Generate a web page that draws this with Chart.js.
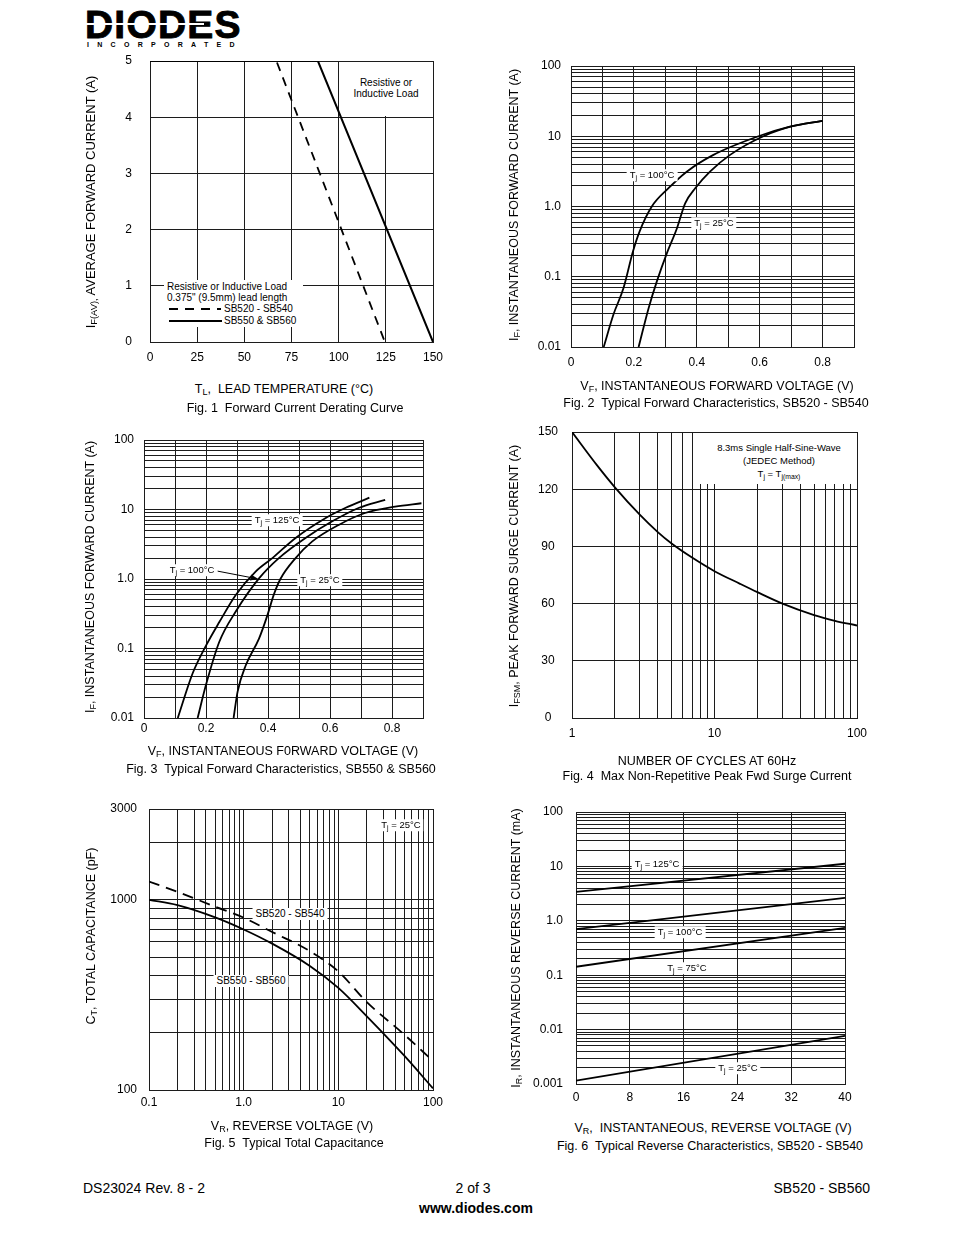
<!DOCTYPE html>
<html><head><meta charset="utf-8">
<script src="https://cdn.jsdelivr.net/npm/chart.js@4.4.1/dist/chart.umd.min.js"></script>
<style>
html,body{margin:0;padding:0;background:#fff;}
body{width:954px;height:1235px;position:relative;overflow:hidden;font-family:"Liberation Sans",Arial,Helvetica,sans-serif;color:#000;}
canvas{position:absolute;}
.t{position:absolute;white-space:nowrap;transform:translate(-50%,-50%);line-height:1;}
.tl{position:absolute;white-space:nowrap;transform:translate(0,-50%);line-height:1;}
.tr{position:absolute;white-space:nowrap;transform:translate(-100%,-50%);line-height:1;}
.r{transform:translate(-50%,-50%) rotate(-90deg);}
.ax{font-size:12.5px;}
.lb{font-size:9.5px;background:#fff;padding:1px 3px;}
.sb{font-size:10px;background:#fff;padding:1px 3px;}
.box{position:absolute;background:#fff;}
sub{font-size:72%;vertical-align:-0.3em;line-height:0;}
</style></head><body>

<!-- header logo -->
<div style="position:absolute;left:85px;top:5px;font:bold 39px/39px 'Liberation Sans',Arial,sans-serif;letter-spacing:1.2px;-webkit-text-stroke:0.9px #000;">DIODES</div>
<div style="position:absolute;left:86px;top:23px;width:118px;height:2px;background:#fff;"></div>
<div style="position:absolute;left:87px;top:41px;font:bold 7px/8px 'Liberation Sans',Arial,sans-serif;letter-spacing:8.3px;">INCORPORATED</div>

<canvas id="c1"></canvas>
<canvas id="c2"></canvas>
<canvas id="c3"></canvas>
<canvas id="c4"></canvas>
<canvas id="c5"></canvas>
<canvas id="c6"></canvas>

<!-- Fig 1 texts -->
<div class="box" style="left:350px;top:62px;width:81px;height:54px;"></div>
<div class="t" style="left:386px;top:83px;font-size:10px;">Resistive or</div>
<div class="t" style="left:386px;top:94px;font-size:10px;">Inductive Load</div>
<div class="box" style="left:164px;top:280px;width:139px;height:47px;"></div>
<div class="tl" style="left:167px;top:287px;font-size:10px;">Resistive or Inductive Load</div>
<div class="tl" style="left:167px;top:298px;font-size:10px;">0.375" (9.5mm) lead length</div>
<svg style="position:absolute;left:160px;top:300px;" width="70" height="30">
<line x1="9" y1="9" x2="61" y2="9" stroke="#000" stroke-width="1.8" stroke-dasharray="9,7"/>
<line x1="9" y1="21" x2="62" y2="21" stroke="#000" stroke-width="2"/>
</svg>
<div class="tl" style="left:224px;top:309px;font-size:10px;">SB520 - SB540</div>
<div class="tl" style="left:224px;top:321px;font-size:10px;">SB550 &amp; SB560</div>
<div class="t r" style="left:90px;top:202px;font-size:13px;">I<sub>F(AV),</sub> AVERAGE FORWARD CURRENT (A)</div>
<div class="t ax" style="left:284px;top:389px;">T<sub>L</sub>,&nbsp; LEAD TEMPERATURE (°C)</div>
<div class="t ax" style="left:295px;top:408px;">Fig. 1&nbsp; Forward Current Derating Curve</div>

<!-- Fig 2 texts -->
<div class="t lb" style="left:652px;top:175px;">T<sub>j</sub> = 100°C</div>
<div class="t lb" style="left:714px;top:223px;">T<sub>j</sub> = 25°C</div>
<div class="t r ax" style="left:514px;top:205px;">I<sub>F</sub>, INSTANTANEOUS FORWARD CURRENT (A)</div>
<div class="t ax" style="left:717px;top:386px;">V<sub>F</sub>, INSTANTANEOUS FORWARD VOLTAGE (V)</div>
<div class="t ax" style="left:716px;top:403px;">Fig. 2&nbsp; Typical Forward Characteristics, SB520 - SB540</div>

<!-- Fig 3 texts -->
<div class="t lb" style="left:277px;top:520px;">T<sub>j</sub> = 125°C</div>
<div class="t lb" style="left:192px;top:570px;">T<sub>j</sub> = 100°C</div>
<div class="t lb" style="left:320px;top:580px;">T<sub>j</sub> = 25°C</div>
<div class="t r ax" style="left:90px;top:577px;">I<sub>F</sub>, INSTANTANEOUS FORWARD CURRENT (A)</div>
<div class="t ax" style="left:283px;top:751px;">V<sub>F</sub>, INSTANTANEOUS F0RWARD VOLTAGE (V)</div>
<div class="t ax" style="left:281px;top:769px;">Fig. 3&nbsp; Typical Forward Characteristics, SB550 &amp; SB560</div>

<!-- Fig 4 texts -->
<div class="box" style="left:700px;top:433px;width:155px;height:51px;"></div>
<div class="t" style="left:779px;top:448px;font-size:9.5px;">8.3ms Single Half-Sine-Wave</div>
<div class="t" style="left:779px;top:461px;font-size:9.5px;">(JEDEC Method)</div>
<div class="t" style="left:779px;top:474px;font-size:9.5px;">T<sub>j</sub> = T<sub>j(max)</sub></div>
<div class="t r ax" style="left:514px;top:576px;">I<sub>FSM</sub>, PEAK FORWARD SURGE CURRENT (A)</div>
<div class="t ax" style="left:707px;top:761px;">NUMBER OF CYCLES AT 60Hz</div>
<div class="t ax" style="left:707px;top:776px;">Fig. 4&nbsp; Max Non-Repetitive Peak Fwd Surge Current</div>

<!-- Fig 5 texts -->
<div class="t lb" style="left:401px;top:825px;">T<sub>j</sub> = 25°C</div>
<div class="t sb" style="left:290px;top:914px;">SB520 - SB540</div>
<div class="t sb" style="left:251px;top:981px;">SB550 - SB560</div>
<div class="t r ax" style="left:91px;top:936px;">C<sub>T</sub>, TOTAL CAPACITANCE (pF)</div>
<div class="t ax" style="left:292px;top:1126px;">V<sub>R</sub>, REVERSE VOLTAGE (V)</div>
<div class="t ax" style="left:294px;top:1143px;">Fig. 5&nbsp; Typical Total Capacitance</div>

<!-- Fig 6 texts -->
<div class="t lb" style="left:657px;top:864px;">T<sub>j</sub> = 125°C</div>
<div class="t lb" style="left:680px;top:932px;">T<sub>j</sub> = 100°C</div>
<div class="t lb" style="left:687px;top:968px;">T<sub>j</sub> = 75°C</div>
<div class="t lb" style="left:738px;top:1068px;">T<sub>j</sub> = 25°C</div>
<div class="t r ax" style="left:516px;top:948px;">I<sub>R</sub>, INSTANTANEOUS REVERSE CURRENT (mA)</div>
<div class="t ax" style="left:713px;top:1128px;">V<sub>R</sub>,&nbsp; INSTANTANEOUS, REVERSE VOLTAGE (V)</div>
<div class="t ax" style="left:710px;top:1146px;">Fig. 6&nbsp; Typical Reverse Characteristics, SB520 - SB540</div>

<!-- footer -->
<div class="tl" style="left:83px;top:1188px;font-size:14px;">DS23024 Rev. 8 - 2</div>
<div class="t" style="left:473px;top:1188px;font-size:14px;">2 of 3</div>
<div class="tr" style="left:870px;top:1188px;font-size:14px;">SB520 - SB560</div>
<div class="t" style="left:476px;top:1208px;font-size:14px;font-weight:bold;">www.diodes.com</div>

<script>
// ---------------- DATA ----------------
// Fig 1: forward current derating
const fig1XTicks = [0, 25, 50, 75, 100, 125, 150];
const fig1YTicks = [0, 1, 2, 3, 4, 5];
const fig1TempSB520 = [0, 67, 124.5];
const fig1CurrSB520 = [5, 5, 0];
const fig1TempSB550 = [0, 89, 150];
const fig1CurrSB550 = [5, 5, 0];

// Fig 2: forward characteristics SB520-SB540
const fwdXTicks = [0, 0.1, 0.2, 0.3, 0.4, 0.5, 0.6, 0.7, 0.8, 0.9];
const fwdXLabelVals = [0, 0.2, 0.4, 0.6, 0.8];
const fwdXLabels = ['0', '0.2', '0.4', '0.6', '0.8'];
const fwdYLabelVals = [0.01, 0.1, 1, 10, 100];
const fwdYLabels = ['0.01', '0.1', '1.0', '10', '100'];
const fig2V100 = [0.104, 0.135, 0.167, 0.197, 0.218, 0.257, 0.31, 0.368, 0.453, 0.596, 0.696, 0.80];
const fig2I100 = [0.01, 0.029, 0.069, 0.229, 0.44, 1.0, 1.82, 3.13, 5.43, 10, 13.7, 16.6];
const fig2V25 = [0.215, 0.247, 0.273, 0.305, 0.337, 0.363, 0.395, 0.442, 0.506, 0.612, 0.707, 0.80];
const fig2I25 = [0.01, 0.036, 0.086, 0.217, 0.49, 1.11, 1.82, 3.13, 5.43, 10, 14.0, 16.6];

// Fig 3: forward characteristics SB550 & SB560
const fig3V125 = [0.109, 0.157, 0.2, 0.243, 0.296, 0.36, 0.414, 0.489, 0.585, 0.649, 0.727];
const fig3I125 = [0.01, 0.044, 0.11, 0.24, 0.59, 1.28, 2.0, 3.9, 7.5, 10.5, 14.8];
const fig3V100 = [0.173, 0.2, 0.243, 0.296, 0.371, 0.435, 0.521, 0.606, 0.692, 0.778];
const fig3I100 = [0.01, 0.03, 0.125, 0.34, 1.02, 2.0, 3.9, 6.7, 10.5, 13.8];
const fig3V25 = [0.289, 0.302, 0.328, 0.371, 0.398, 0.419, 0.44, 0.489, 0.542, 0.628, 0.713, 0.81, 0.895];
const fig3I25 = [0.01, 0.024, 0.057, 0.139, 0.30, 0.6, 1.0, 2.0, 3.45, 6.0, 8.9, 11.0, 12.3];

// Fig 4: surge current
const fig4XLabelVals = [1, 10, 100];
const fig4XLabels = ['1', '10', '100'];
const fig4YTicks = [0, 30, 60, 90, 120, 150];
const fig4Cycles = [1, 1.5, 2, 3, 4, 5, 7, 10, 15, 20, 30, 50, 70, 100];
const fig4Amps = [150, 132.5, 121, 106.5, 97.5, 91.5, 84, 77, 70.5, 66, 60, 54, 51, 48.5];

// Fig 5: total capacitance
const fig5XLabelVals = [0.1, 1, 10, 100];
const fig5XLabels = ['0.1', '1.0', '10', '100'];
const fig5YTicks = [100, 200, 300, 400, 500, 600, 700, 800, 900, 1000, 2000, 3000];
const fig5YLabelVals = [100, 1000, 3000];
const fig5YLabels = ['100', '1000', '3000'];
const fig5V = [0.1, 0.2, 0.5, 1, 2, 5, 10, 20, 50, 100];
const fig5C520 = [1247, 1100, 920, 805, 677, 537, 420, 290, 195, 142];
const fig5C550 = [1000, 937, 808, 698, 588, 449, 344, 244, 151, 102];

// Fig 6: reverse characteristics
const fig6XTicks = [0, 8, 16, 24, 32, 40];
const fig6YLabelVals = [0.001, 0.01, 0.1, 1, 10, 100];
const fig6YLabels = ['0.001', '0.01', '0.1', '1.0', '10', '100'];
const fig6V = [0, 40];
const fig6I125 = [3.4, 11.2];
const fig6I100 = [0.70, 2.65];
const fig6I75 = [0.143, 0.74];
const fig6I25 = [0.00115, 0.0077];

// ---------------- HELPERS ----------------
Chart.defaults.font.family = '"Liberation Sans", Arial, Helvetica, sans-serif';
Chart.defaults.color = '#000';
const GRID = '#1c1c1c';

function logGrid(loExp, hiVal) {
  const out = [];
  for (let e = loExp; Math.pow(10, e) < hiVal * 0.999; e++) {
    for (let m = 1; m <= 9; m++) {
      const v = +(m * Math.pow(10, e)).toPrecision(6);
      if (v <= hiVal * 1.0001) out.push(v);
    }
  }
  if (out[out.length - 1] < hiVal * 0.999) out.push(hiVal);
  return out;
}
function zip(xs, ys) { return xs.map((x, i) => ({ x: x, y: ys[i] })); }

function axis(type, min, max, tickVals, labelVals, labelStrs, pad, cross) {
  return {
    type: type, min: min, max: max,
    afterBuildTicks: s => { s.ticks = tickVals.map(v => ({ value: v })); },
    grid: { color: GRID, lineWidth: 1, drawTicks: false },
    border: { color: GRID, width: 1 },
    ticks: {
      autoSkip: false, maxRotation: 0, minRotation: 0, padding: pad,
      crossAlign: cross || 'near', font: { size: 12 }, color: '#000',
      callback: (v) => {
        const i = labelVals.findIndex(l => Math.abs(l - v) <= Math.abs(l) * 1e-6 + 1e-12);
        return i >= 0 ? labelStrs[i] : '';
      }
    }
  };
}
function line(xs, ys, opts) {
  return Object.assign({
    data: zip(xs, ys), borderColor: '#000', borderWidth: 1.8, pointRadius: 0,
    fill: false, tension: 0
  }, opts || {});
}

const YW = 60, XH = 32, PT = 40, PR = 32;
function build(id, box, xAxis, yAxis, datasets, plugins) {
  const cv = document.getElementById(id);
  cv.width = (box.R - box.L) + YW + PR;
  cv.height = (box.B - box.T) + XH + PT;
  cv.style.left = (box.L - YW) + 'px';
  cv.style.top = (box.T - PT) + 'px';
  xAxis.position = 'bottom';
  yAxis.position = 'left';
  xAxis.afterFit = s => { s.height = XH; };
  yAxis.afterFit = s => { s.width = YW; };
  return new Chart(cv, {
    type: 'line',
    data: { datasets: datasets },
    options: {
      responsive: false, maintainAspectRatio: false, animation: false,
      devicePixelRatio: 1, events: [],
      layout: { padding: { left: 0, top: PT, right: PR, bottom: 0 } },
      plugins: { legend: { display: false }, tooltip: { enabled: false } },
      scales: { x: xAxis, y: yAxis }
    },
    plugins: plugins || []
  });
}

// ---------------- CHARTS ----------------
// Fig 1
build('c1', { L: 150, T: 61, R: 433, B: 342 },
  axis('linear', 0, 150, fig1XTicks, fig1XTicks, fig1XTicks.map(String), 8),
  axis('linear', 0, 5, fig1YTicks, fig1YTicks, fig1YTicks.map(String), 18),
  [
    line(fig1TempSB520, fig1CurrSB520, { borderDash: [9, 7], borderWidth: 1.8 }),
    line(fig1TempSB550, fig1CurrSB550, { borderWidth: 2 })
  ]);

// Fig 2
build('c2', { L: 571, T: 66, R: 854, B: 347 },
  axis('linear', 0, 0.9, fwdXTicks, fwdXLabelVals, fwdXLabels, 8),
  axis('logarithmic', 0.01, 100, logGrid(-2, 100), fwdYLabelVals, fwdYLabels, 10),
  [
    line(fig2V100, fig2I100, { cubicInterpolationMode: 'monotone' }),
    line(fig2V25, fig2I25, { cubicInterpolationMode: 'monotone' })
  ]);

// Fig 3 (with arrow pointing to the 100°C curve)
const arrowPlugin = {
  id: 'arrow100',
  afterDatasetsDraw(chart) {
    const ctx = chart.ctx;
    const cvLeft = parseFloat(chart.canvas.style.left), cvTop = parseFloat(chart.canvas.style.top);
    const x0 = 217 - cvLeft, y0 = 571 - cvTop;
    const x1 = chart.scales.x.getPixelForValue(0.369);
    const y1 = chart.scales.y.getPixelForValue(1.0);
    const ang = Math.atan2(y1 - y0, x1 - x0);
    ctx.save();
    ctx.strokeStyle = '#000'; ctx.fillStyle = '#000'; ctx.lineWidth = 1;
    ctx.beginPath(); ctx.moveTo(x0, y0); ctx.lineTo(x1 - 5 * Math.cos(ang), y1 - 5 * Math.sin(ang)); ctx.stroke();
    ctx.beginPath();
    ctx.moveTo(x1, y1);
    ctx.lineTo(x1 - 8 * Math.cos(ang) + 3 * Math.sin(ang), y1 - 8 * Math.sin(ang) - 3 * Math.cos(ang));
    ctx.lineTo(x1 - 8 * Math.cos(ang) - 3 * Math.sin(ang), y1 - 8 * Math.sin(ang) + 3 * Math.cos(ang));
    ctx.closePath(); ctx.fill();
    ctx.restore();
  }
};
build('c3', { L: 144, T: 440, R: 423, B: 718 },
  axis('linear', 0, 0.9, fwdXTicks, fwdXLabelVals, fwdXLabels, 3),
  axis('logarithmic', 0.01, 100, logGrid(-2, 100), fwdYLabelVals, fwdYLabels, 10),
  [
    line(fig3V125, fig3I125, { cubicInterpolationMode: 'monotone' }),
    line(fig3V100, fig3I100, { cubicInterpolationMode: 'monotone' }),
    line(fig3V25, fig3I25, { cubicInterpolationMode: 'monotone' })
  ], [arrowPlugin]);

// Fig 4
build('c4', { L: 572, T: 432, R: 857, B: 718 },
  axis('logarithmic', 1, 100, logGrid(0, 100), fig4XLabelVals, fig4XLabels, 8),
  axis('linear', 0, 150, fig4YTicks, fig4YTicks, fig4YTicks.map(String), 14, 'center'),
  [ line(fig4Cycles, fig4Amps, { cubicInterpolationMode: 'monotone' }) ]);

// Fig 5
build('c5', { L: 149, T: 809, R: 433, B: 1090 },
  axis('logarithmic', 0.1, 100, logGrid(-1, 100), fig5XLabelVals, fig5XLabels, 5),
  axis('logarithmic', 100, 3000, fig5YTicks, fig5YLabelVals, fig5YLabels, 12),
  [
    line(fig5V, fig5C520, { cubicInterpolationMode: 'monotone', borderDash: [11, 7] }),
    line(fig5V, fig5C550, { cubicInterpolationMode: 'monotone' })
  ]);

// Fig 6
build('c6', { L: 576, T: 812, R: 845, B: 1084 },
  axis('linear', 0, 40, fig6XTicks, fig6XTicks, fig6XTicks.map(String), 6),
  axis('logarithmic', 0.001, 100, logGrid(-3, 100), fig6YLabelVals, fig6YLabels, 13),
  [
    line(fig6V, fig6I125), line(fig6V, fig6I100), line(fig6V, fig6I75), line(fig6V, fig6I25)
  ]);
</script>
</body></html>
